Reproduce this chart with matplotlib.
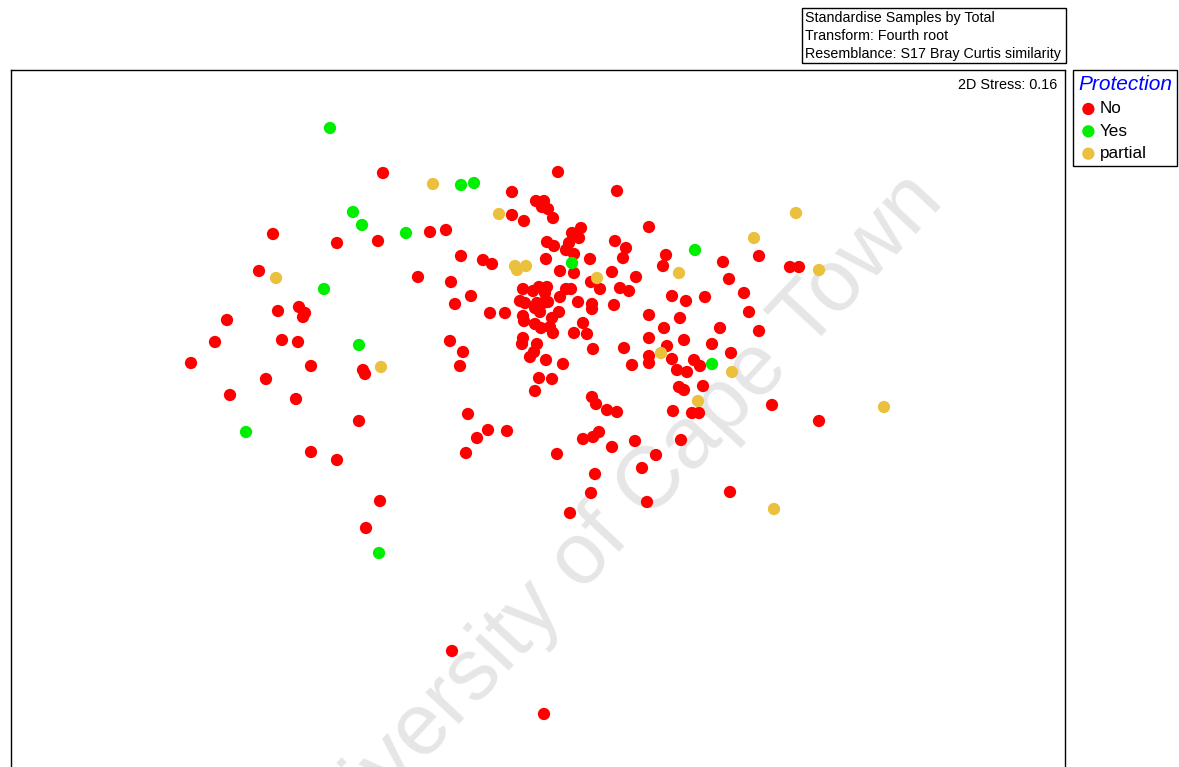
import matplotlib
matplotlib.use("Agg")
import matplotlib.pyplot as plt
from matplotlib.patches import Rectangle

plt.rcParams['font.family'] = ['Liberation Sans', 'DejaVu Sans']

# MDS ordination, coordinates (screen units, y down)
no_x = [383, 273, 337, 378, 430, 446, 259, 418, 278, 299, 305, 303, 227, 215, 282, 298,
        191, 311, 363, 365, 266, 230, 296, 359, 311, 337, 380, 366, 452, 544,
        461, 483, 492, 451, 471, 455, 490, 505, 450, 463, 460, 468, 488, 477, 507, 466,
        558, 512, 617, 536, 544, 542, 548, 553, 512, 524, 572, 581, 579, 547, 554, 569,
        566, 574, 546, 590, 615, 626, 623, 649, 666, 663, 560, 574, 612, 636,
        591, 600, 620, 629, 672, 523, 533, 539, 547, 545, 566, 571, 560, 520, 525, 537,
        543, 548, 535, 540, 559, 578, 592, 592, 614, 523, 524, 535, 541, 552, 550, 553,
        583, 574, 587, 523, 522, 537, 534, 530, 546, 563, 593, 624,
        686, 705, 744, 749, 759, 649, 680, 664, 649, 684, 720, 712, 667, 649, 649, 632,
        672, 694, 700, 677, 687, 731, 679, 684, 703, 772, 673, 692, 699, 607, 617, 819,
        723, 759, 790, 799, 729,
        539, 552, 535, 592, 596, 583, 593, 599, 612, 635, 681, 557, 656, 642, 595, 591,
        647, 570, 730]
no_y = [173, 234, 243, 241, 232, 230, 271, 277, 311, 307, 313, 317, 320, 342, 340, 342,
        363, 366, 370, 374, 379, 395, 399, 421, 452, 460, 501, 528, 651, 714,
        256, 260, 264, 282, 296, 304, 313, 313, 341, 352, 366, 414, 430, 438, 431, 453,
        172, 192, 191, 201, 201, 207, 209, 218, 215, 221, 233, 228, 238, 242, 246, 243,
        250, 254, 259, 259, 241, 248, 258, 227, 255, 266, 271, 273, 272, 277,
        282, 289, 288, 291, 296, 289, 291, 287, 287, 293, 289, 289, 297, 301, 303, 303,
        303, 302, 308, 312, 312, 302, 304, 309, 305, 316, 321, 324, 328, 318, 327, 333,
        323, 333, 334, 338, 344, 344, 352, 357, 360, 364, 349, 348,
        301, 297, 293, 312, 331, 315, 318, 328, 338, 340, 328, 344, 346, 356, 363, 365,
        359, 360, 366, 370, 372, 353, 387, 390, 386, 405, 411, 413, 413, 410, 412, 421,
        262, 256, 267, 267, 279,
        378, 379, 391, 397, 404, 439, 437, 432, 447, 441, 440, 454, 455, 468, 474, 493,
        502, 513, 492]

yes_x = [330, 461, 474, 353, 362, 406, 324, 359, 246, 379, 572, 695, 712]
yes_y = [128, 185, 183, 212, 225, 233, 289, 345, 432, 553, 263, 250, 364]

partial_x = [433, 499, 276, 381, 515, 526, 517, 597, 679, 661, 754, 796, 819, 732, 698, 884, 774]
partial_y = [184, 214, 278, 367, 266, 266, 270, 278, 273, 353, 238, 213, 270, 372, 401, 407, 509]

groups = ['No', 'Yes', 'partial']
colors = ['#ff0000', '#00ee00', '#ebc03c']
stress = 0.16

fig = plt.figure(figsize=(11.79, 7.67), dpi=100)
W, H = 1179, 767
ax_left, ax_right, ax_top, ax_bottom = 11, 1065, 70, 800
ax = fig.add_axes([ax_left / W, (H - ax_bottom) / H,
                   (ax_right - ax_left) / W, (ax_bottom - ax_top) / H])
ax.set_xlim(ax_left, ax_right)
ax.set_ylim(ax_bottom, ax_top)
ax.set_xticks([])
ax.set_yticks([])
for sp in ax.spines.values():
    sp.set_linewidth(1.0)
    sp.set_color('black')

# watermark
ax.text(0.566, 0.368, 'University of Cape Town', transform=ax.transAxes,
        rotation=47, fontsize=63, color='#e6e6e6', ha='center', va='center',
        rotation_mode='anchor', zorder=0, clip_on=True)

data = [(no_x, no_y), (yes_x, yes_y), (partial_x, partial_y)]
for (xs, ys), g, c in zip(data, groups, colors):
    ax.scatter(xs, ys, s=78, color=c, edgecolors='none', label=g, zorder=2)

ax.text(0.9925, 0.979, f'2D Stress: {stress}', transform=ax.transAxes,
        ha='right', va='center', fontsize=10.4)

leg = ax.legend(loc='upper left', bbox_to_anchor=(1073 / W, 1 - 70 / H),
                bbox_transform=fig.transFigure, title='Protection',
                fontsize=12.3, fancybox=False, edgecolor='black', framealpha=1,
                handletextpad=0.05, borderpad=0.3, labelspacing=0.43,
                handlelength=1.2, borderaxespad=0, markerscale=1.0)
leg.get_frame().set_linewidth(1.0)
leg.get_title().set_color('#0000ff')
leg.get_title().set_fontstyle('italic')
leg.get_title().set_fontsize(15)
leg._legend_box.align = 'left'

# info box at top
fig.patches.append(Rectangle((802 / W, 1 - 63 / H), 264 / W, 55 / H,
                             transform=fig.transFigure, fill=False,
                             edgecolor='black', linewidth=1.0))
info = ['Standardise Samples by Total', 'Transform: Fourth root',
        'Resemblance: S17 Bray Curtis similarity']
for i, line in enumerate(info):
    fig.text(805 / W, 1 - (18 + 18 * i) / H, line, fontsize=10.3,
             ha='left', va='center')

fig.savefig('out.png', dpi=100)
